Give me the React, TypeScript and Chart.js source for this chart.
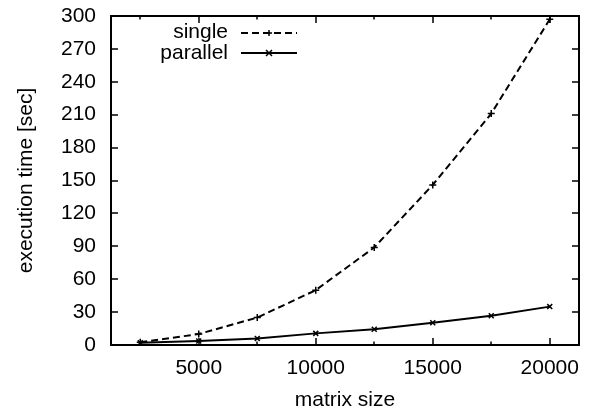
import React, { useEffect, useRef } from "react";
import { Chart, registerables } from "chart.js";
Chart.register(...registerables);

const matrixSizes = [2500, 5000, 7500, 10000, 12500, 15000, 17500, 20000];
const singleTimes = [2.5, 10, 25, 50, 89, 146, 211, 297];
const parallelTimes = [2, 3.6, 6, 10.6, 14.3, 20.3, 26.7, 35];
const seriesLabels = ["single", "parallel"];
const xTickValues = [5000, 10000, 15000, 20000];
const xMinorTickValues = [2500, 7500, 12500, 17500];
const yTickValues = [0, 30, 60, 90, 120, 150, 180, 210, 240, 270, 300];

const FONT = "'Liberation Sans', Arial, Helvetica, sans-serif";
const FS = 21;

const framePlugin = {
  id: "gnuplotFrame",
  afterDatasetsDraw(chart: any) {
    const { ctx, chartArea } = chart;
    const { left, right, top, bottom } = chartArea;
    const xs = chart.scales.x;
    const ys = chart.scales.y;
    ctx.save();
    ctx.strokeStyle = "#000";
    ctx.lineWidth = 2;
    ctx.setLineDash([]);
    ctx.strokeRect(left, top, right - left, bottom - top);
    ctx.lineWidth = 1.5;
    ctx.beginPath();
    for (const v of xTickValues) {
      const px = Math.round(xs.getPixelForValue(v));
      ctx.moveTo(px, bottom); ctx.lineTo(px, bottom - 7);
      ctx.moveTo(px, top); ctx.lineTo(px, top + 7);
    }
    for (const v of xMinorTickValues) {
      const px = Math.round(xs.getPixelForValue(v));
      ctx.moveTo(px, bottom); ctx.lineTo(px, bottom - 3.5);
      ctx.moveTo(px, top); ctx.lineTo(px, top + 3.5);
    }
    for (const v of yTickValues) {
      const py = Math.round(ys.getPixelForValue(v));
      ctx.moveTo(left, py); ctx.lineTo(left + 7, py);
      ctx.moveTo(right, py); ctx.lineTo(right - 7, py);
    }
    ctx.stroke();

    // legend
    const ds = chart.data.datasets;
    const textRight = 228;
    const lineStart = 241;
    const lineEnd = 297;
    const baselines = [38, 59];
    const lineYs = [33, 53];
    ctx.font = `${FS}px ${FONT}`;
    ctx.fillStyle = "#000";
    ctx.textAlign = "right";
    ctx.textBaseline = "alphabetic";
    ds.forEach((d: any, i: number) => {
      const y = lineYs[i];
      ctx.fillText(d.label, textRight, baselines[i]);
      ctx.lineWidth = 2;
      ctx.setLineDash(d.borderDash || []);
      ctx.beginPath();
      ctx.moveTo(lineStart, y);
      ctx.lineTo(lineEnd, y);
      ctx.stroke();
      ctx.setLineDash([]);
      const cx = (lineStart + lineEnd) / 2;
      const r = 3;
      ctx.lineWidth = 1.5;
      ctx.beginPath();
      if (d.pointStyle === "cross") {
        ctx.moveTo(cx - r, y); ctx.lineTo(cx + r, y);
        ctx.moveTo(cx, y - r); ctx.lineTo(cx, y + r);
      } else {
        ctx.moveTo(cx - r, y - r); ctx.lineTo(cx + r, y + r);
        ctx.moveTo(cx - r, y + r); ctx.lineTo(cx + r, y - r);
      }
      ctx.stroke();
    });
    ctx.restore();
  },
};

export default function App() {
  const ref = useRef<HTMLCanvasElement>(null);
  useEffect(() => {
    if (!ref.current) return;
    const chart = new Chart(ref.current, {
      type: "line",
      data: {
        datasets: [
          {
            label: seriesLabels[0],
            data: matrixSizes.map((x, i) => ({ x, y: singleTimes[i] })),
            borderColor: "#000",
            backgroundColor: "#000",
            borderWidth: 2,
            borderDash: [7, 4],
            pointStyle: "cross",
            pointRadius: 3.5,
            pointBorderWidth: 1.5,
            tension: 0,
          },
          {
            label: seriesLabels[1],
            data: matrixSizes.map((x, i) => ({ x, y: parallelTimes[i] })),
            borderColor: "#000",
            backgroundColor: "#000",
            borderWidth: 2,
            pointStyle: "crossRot",
            pointRadius: 3.5,
            pointBorderWidth: 1.5,
            tension: 0,
          },
        ],
      },
      options: {
        animation: false,
        responsive: false,
        layout: { padding: { top: 16, right: 12, left: 0, bottom: 0 } },
        plugins: { legend: { display: false }, tooltip: { enabled: false }, title: { display: false } },
        scales: {
          x: {
            type: "linear",
            min: 1250,
            max: 21250,
            grid: { display: false, drawTicks: false },
            border: { display: false },
            afterBuildTicks: (s: any) => {
              s.ticks = xTickValues.map((v) => ({ value: v }));
            },
            afterFit: (s: any) => {
              s.height = 67;
              s.paddingLeft = 0;
              s.paddingRight = 0;
            },
            ticks: {
              color: "#000",
              padding: 11,
              maxRotation: 0,
              font: { family: FONT, size: FS },
              callback: (v: any) => String(v),
            },
            title: {
              display: true,
              text: "matrix size",
              color: "#000",
              font: { family: FONT, size: FS },
              padding: { top: 0, bottom: -1 },
            },
          },
          y: {
            type: "linear",
            min: 0,
            max: 300,
            grid: { display: false, drawTicks: false },
            border: { display: false },
            afterBuildTicks: (s: any) => {
              s.ticks = yTickValues.map((v) => ({ value: v }));
            },
            afterFit: (s: any) => {
              s.width = 111;
              s.paddingTop = 0;
              s.paddingBottom = 0;
            },
            ticks: {
              color: "#000",
              padding: 15,
              font: { family: FONT, size: FS },
              callback: (v: any) => String(v),
            },
            title: {
              display: true,
              text: "execution time [sec]",
              color: "#000",
              font: { family: FONT, size: FS },
              padding: { top: 14, bottom: 0 },
            },
          },
        },
      },
      plugins: [framePlugin],
    } as any);
    return () => chart.destroy();
  }, []);
  return (
    <div style={{ position: "fixed", left: 0, top: 0, width: 591, height: 412, background: "#fff" }}>
      <canvas ref={ref} width={591} height={412} style={{ display: "block" }} />
    </div>
  );
}
